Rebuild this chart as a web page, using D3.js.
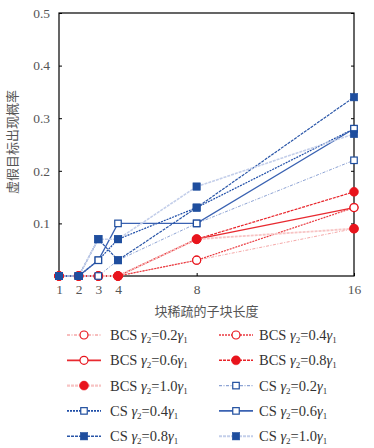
<!DOCTYPE html>
<html>
<head>
<meta charset="utf-8">
<script src="https://cdn.jsdelivr.net/npm/d3@7"></script>
<style>
  body { margin: 0; background: #fff; }
  svg text { font-family: "Liberation Serif", "DejaVu Serif", serif; }
</style>
</head>
<body>
<div id="chart"></div>
<script>
// data
var blockLen = [1, 2, 3, 4, 8, 16];
var yTicks = [0.1, 0.2, 0.3, 0.4, 0.5];
var seriesNames = ["BCS 0.2", "BCS 0.4", "BCS 0.6", "BCS 0.8", "BCS 1.0",
                   "CS 0.2", "CS 0.4", "CS 0.6", "CS 0.8", "CS 1.0"];
var gammaRatio = ["0.2", "0.4", "0.6", "0.8", "1.0", "0.2", "0.4", "0.6", "0.8", "1.0"];
var bcs02 = [0, 0, 0, 0, 0.03, 0.09];
var bcs04 = [0, 0, 0, 0, 0.03, 0.13];
var bcs06 = [0, 0, 0, 0, 0.07, 0.13];
var bcs08 = [0, 0, 0, 0, 0.07, 0.16];
var bcs10 = [0, 0, 0, 0, 0.07, 0.09];
var cs02 = [0, 0, 0, 0.03, 0.10, 0.22];
var cs04 = [0, 0, 0.03, 0.07, 0.13, 0.28];
var cs06 = [0, 0, 0.03, 0.10, 0.10, 0.28];
var cs08 = [0, 0, 0.07, 0.03, 0.13, 0.34];
var cs10 = [0, 0, 0.07, 0.07, 0.17, 0.27];
var allValues = [bcs02, bcs04, bcs06, bcs08, bcs10, cs02, cs04, cs06, cs08, cs10];

// styles per series
var red = "#e8141c", blue = "#1f4e9e";
var styles = [
  {line: "#f5a8a8", dash: "3,1.5,1,1.5", w: 1,   mark: "circle", fill: false, mc: red},
  {line: "#ea3a40", dash: "2,1",         w: 1.2, mark: "circle", fill: false, mc: red},
  {line: "#e82a30", dash: null,          w: 1.3, mark: "circle", fill: false, mc: red},
  {line: "#e8242a", dash: "3,1",         w: 1.2, mark: "circle", fill: true,  mc: red},
  {line: "#f7c4c4", dash: "3,1",         w: 1.8, mark: "circle", fill: true,  mc: red},
  {line: "#8da3d4", dash: "3,1.5,1,1.5", w: 1,   mark: "square", fill: false, mc: blue},
  {line: "#1f4ea8", dash: "2,1",         w: 1.2, mark: "square", fill: false, mc: blue},
  {line: "#3a62b2", dash: null,          w: 1.3, mark: "square", fill: false, mc: blue},
  {line: "#2a56a8", dash: "3,1",         w: 1.2, mark: "square", fill: true,  mc: blue},
  {line: "#c4cfea", dash: "3,1",         w: 1.6, mark: "square", fill: true,  mc: blue}
];

var W = 374, H = 448;
var plot = {left: 59, right: 354, top: 13, bottom: 276};

var svg = d3.select("#chart").append("svg")
  .attr("width", W).attr("height", H);

var x = d3.scaleLinear().domain([1, 16]).range([plot.left, plot.right]);
var y = d3.scaleLinear().domain([0, 0.5]).range([plot.bottom, plot.top]);

var data = seriesNames.map(function(n, i) {
  return {name: n, style: styles[i], values: blockLen.map(function(b, j) { return {x: b, y: allValues[i][j]}; })};
});

// axes (ticks point inward like the original)
svg.append("g")
  .attr("transform", "translate(0," + plot.bottom + ")")
  .call(d3.axisBottom(x).tickValues(blockLen).tickSize(-3).tickPadding(8).tickFormat(d3.format("d")))
  .call(function(g) {
    g.select(".domain").remove();
    g.selectAll("line").attr("stroke", "#000");
    g.selectAll("text").attr("fill", "#555").style("font-size", "13.5px");
  });

svg.append("g")
  .attr("transform", "translate(" + plot.left + ",0)")
  .call(d3.axisLeft(y).tickValues(yTicks).tickSize(-3).tickPadding(9).tickFormat(d3.format(".1f")))
  .call(function(g) {
    g.select(".domain").remove();
    g.selectAll("line").attr("stroke", "#000");
    g.selectAll("text").attr("fill", "#555").style("font-size", "13.5px");
  });

svg.append("g")
  .attr("transform", "translate(" + plot.right + ",0)")
  .call(d3.axisRight(y).tickValues(yTicks).tickSize(-3).tickFormat(""))
  .call(function(g) {
    g.select(".domain").remove();
    g.selectAll("line").attr("stroke", "#000");
  });

// frame
svg.append("rect")
  .attr("x", plot.left).attr("y", plot.top)
  .attr("width", plot.right - plot.left).attr("height", plot.bottom - plot.top)
  .attr("fill", "none").attr("stroke", "#000").attr("stroke-width", 1.2);

// axis titles
svg.append("text")
  .attr("x", (plot.left + plot.right) / 2).attr("y", 316)
  .attr("text-anchor", "middle")
  .style("font-family", "'Noto Sans CJK SC'").style("font-size", "13px")
  .attr("fill", "#555")
  .text("块稀疏的子块长度");

svg.append("text")
  .attr("transform", "translate(17," + 142 + ") rotate(-90)")
  .attr("text-anchor", "middle")
  .style("font-family", "'Noto Sans CJK SC'").style("font-size", "13px")
  .attr("fill", "#555")
  .text("虚假目标出现概率");

var line = d3.line()
  .x(function(d) { return x(d.x); })
  .y(function(d) { return y(d.y); });

// lines
svg.selectAll("myLines")
  .data(data)
  .enter()
  .append("path")
  .attr("d", function(d) { return line(d.values); })
  .attr("fill", "none")
  .attr("stroke", function(d) { return d.style.line; })
  .attr("stroke-width", function(d) { return d.style.w; })
  .attr("stroke-dasharray", function(d) { return d.style.dash; });

function drawMarker(g, s, cx, cy) {
  if (s.mark === "circle") {
    g.append("circle").attr("cx", cx).attr("cy", cy).attr("r", s.fill ? 4.5 : 4)
      .attr("fill", s.fill ? s.mc : "#fff")
      .attr("stroke", s.mc).attr("stroke-width", s.fill ? 0.5 : 1.2);
  } else {
    var a = s.fill ? 7.5 : 6.5;
    g.append("rect").attr("x", cx - a / 2).attr("y", cy - a / 2).attr("width", a).attr("height", a)
      .attr("fill", s.fill ? s.mc : "#fff")
      .attr("stroke", s.mc).attr("stroke-width", s.fill ? 0.5 : 1.2);
  }
}

// markers
data.forEach(function(d) {
  var g = svg.append("g");
  d.values.forEach(function(v) { drawMarker(g, d.style, x(v.x), y(v.y)); });
});

// legend
var legRow0 = 335, legStep = 25.3;
var legCols = [{x0: 67, x1: 101, tx: 110}, {x0: 219, x1: 253, tx: 259}];
data.forEach(function(d, i) {
  var c = legCols[i % 2];
  var ly = legRow0 + Math.floor(i / 2) * legStep;
  var g = svg.append("g");
  g.append("line")
    .attr("x1", c.x0).attr("x2", c.x1).attr("y1", ly).attr("y2", ly)
    .attr("stroke", d.style.line).attr("stroke-width", d.style.w + 0.4)
    .attr("stroke-dasharray", d.style.dash);
  drawMarker(g, d.style, (c.x0 + c.x1) / 2, ly);
  var t = g.append("text")
    .attr("x", c.tx).attr("y", ly + 5)
    .attr("fill", "#333").style("font-size", "14.5px");
  t.append("tspan").text(d.name.split(" ")[0] + " ");
  t.append("tspan").style("font-style", "italic").text("γ");
  t.append("tspan").attr("dy", 3).style("font-size", "9px").text("2");
  t.append("tspan").attr("dy", -3).text("=" + gammaRatio[i]);
  t.append("tspan").style("font-style", "italic").text("γ");
  t.append("tspan").attr("dy", 3).style("font-size", "9px").text("1");
});
</script>
</body>
</html>
